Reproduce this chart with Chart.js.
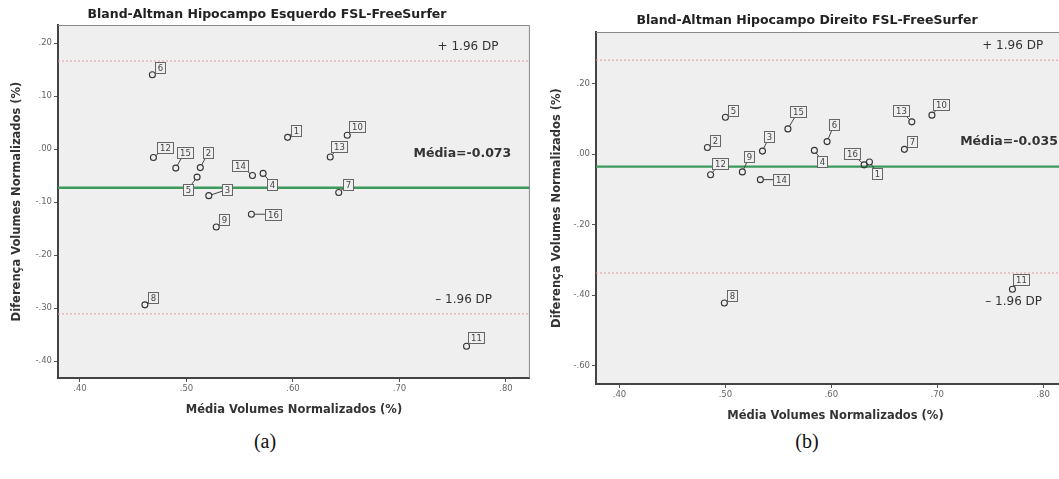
<!DOCTYPE html>
<html>
<head>
<meta charset="utf-8">
<script src="https://cdn.jsdelivr.net/npm/chart.js@4.4.0/dist/chart.umd.min.js"></script>
<style>
  html, body { margin: 0; padding: 0; background: #fff; width: 1059px; height: 479px; overflow: hidden; }
  body { position: relative; }
  .panel { position: absolute; top: 0; height: 425px; }
  .cap { position: absolute; top: 430px; width: 100px; text-align: center;
         font-family: "Liberation Serif", "DejaVu Serif", serif; font-size: 20px; line-height: 22px; color: #111; }
</style>
</head>
<body>
<div class="panel" style="left:0;width:535px"><canvas id="chartA" width="535" height="425"></canvas></div>
<div class="panel" style="left:535px;width:545px"><canvas id="chartB" width="545" height="425"></canvas></div>
<div class="cap" style="left:215px">(a)</div>
<div class="cap" style="left:757px">(b)</div>

<script>
// ids of the subjects (same for both panels)
const subjectIds = [1, 2, 3, 4, 5, 6, 7, 8, 9, 10, 11, 12, 13, 14, 15, 16];

// (a) hipocampo esquerdo
const mediaEsq = [0.595, 0.513, 0.521, 0.572, 0.510, 0.468, 0.643, 0.461, 0.528, 0.651, 0.763, 0.469, 0.635, 0.562, 0.490, 0.561];
const difEsq   = [0.022, -0.035, -0.088, -0.046, -0.053, 0.140, -0.082, -0.294, -0.147, 0.026, -0.372, -0.016, -0.015, -0.050, -0.036, -0.123];
const limitesEsq = { media: -0.073, sup: 0.166, inf: -0.311 };

// (b) hipocampo direito
const mediaDir = [0.636, 0.483, 0.535, 0.584, 0.500, 0.596, 0.669, 0.499, 0.516, 0.695, 0.771, 0.486, 0.676, 0.533, 0.559, 0.631];
const difDir   = [-0.022, 0.019, 0.009, 0.011, 0.105, 0.036, 0.014, -0.422, -0.050, 0.111, -0.383, -0.058, 0.092, -0.072, 0.072, -0.030];
const limitesDir = { media: -0.035, sup: 0.267, inf: -0.337 };

// tick labels
const xTicks = [0.4, 0.5, 0.6, 0.7, 0.8];
const yTicksEsq = [0.2, 0.1, 0.0, -0.1, -0.2, -0.3, -0.4];
const yTicksDir = [0.2, 0.0, -0.2, -0.4, -0.6];

// axis ranges
const xRangeEsq = [0.3794, 0.8225];
const yRangeEsq = [-0.432, 0.234];
const xRangeDir = [0.3778, 0.830];
const yRangeDir = [-0.652, 0.347];

// where each id label box sits relative to its point (px)
const labelPosEsq = [[8,-7],[8,-15],[18,-6],[9,11],[-9,12],[8,-7],[9,-8],[8,-7],[8,-7],[10,-9],[9,-9],[12,-10],[9,-10],[-12,-10],[9,-16],[22,0]];
const labelPosDir = [[8,11],[8,-7],[7,-15],[8,11],[8,-7],[7,-17],[8,-8],[8,-7],[7,-15],[9,-11],[9,-10],[9,-11],[-11,-11],[21,0],[10,-17],[-12,-11]];

const FONT = '"DejaVu Sans", "Liberation Sans", sans-serif';
const PLOT_BG = '#efefef';

function fmtTick(v) {
    return v.toFixed(2).replace('0.', '.');
}

function blandAltman(canvasId, cfg) {
    const [xmin, xmax] = cfg.xRange;
    const lim = cfg.limites;

    const boxPlugin = {
        id: 'spssLook',
        beforeDraw(chart) {
            const a = chart.chartArea, ctx = chart.ctx;
            ctx.save();
            ctx.fillStyle = PLOT_BG;
            ctx.fillRect(a.left, a.top, a.right - a.left, a.bottom - a.top);
            ctx.restore();
        },
        afterDatasetsDraw(chart) {
            const ctx = chart.ctx;
            const xs = chart.scales.x, ys = chart.scales.y;
            const meta = chart.getDatasetMeta(0);

            // id labels with leader lines
            ctx.save();
            ctx.font = '8.5px ' + FONT;
            ctx.textAlign = 'center';
            ctx.textBaseline = 'middle';
            meta.data.forEach((pt, i) => {
                const [dx, dy] = cfg.labelPos[i];
                const cx = pt.x + dx, cy = pt.y + dy;
                const txt = String(subjectIds[i]);
                const w = Math.round(ctx.measureText(txt).width + 5), h = 11;
                const len = Math.hypot(dx, dy) || 1;
                ctx.strokeStyle = '#444';
                ctx.lineWidth = 1;
                ctx.beginPath();
                ctx.moveTo(pt.x + dx / len * 3, pt.y + dy / len * 3);
                ctx.lineTo(cx, cy);
                ctx.stroke();
                const bx = Math.round(cx - w / 2) + 0.5, by = Math.round(cy - h / 2) + 0.5;
                ctx.fillStyle = PLOT_BG;
                ctx.fillRect(bx, by, w, h);
                ctx.strokeStyle = '#666';
                ctx.strokeRect(bx, by, w, h);
                ctx.fillStyle = '#444';
                ctx.fillText(txt, bx + w / 2, by + h / 2 + 0.5);
            });

            // reference line texts
            ctx.textAlign = 'right';
            ctx.fillStyle = '#333';
            ctx.font = '12px ' + FONT;
            ctx.fillText('+ 1.96 DP', xs.getPixelForValue(cfg.txtX[0]), ys.getPixelForValue(lim.sup) + cfg.txtDy[0]);
            ctx.fillText('\u2013 1.96 DP', xs.getPixelForValue(cfg.txtX[2]), ys.getPixelForValue(lim.inf) + cfg.txtDy[2]);
            ctx.font = 'bold 12.5px ' + FONT;
            ctx.fillText('Média=' + lim.media.toFixed(3), xs.getPixelForValue(cfg.txtX[1]), ys.getPixelForValue(lim.media) + cfg.txtDy[1]);

            // chart title
            ctx.textAlign = 'center';
            ctx.fillStyle = '#222';
            ctx.font = 'bold 12.5px ' + FONT;
            ctx.fillText(cfg.title, cfg.titlePos[0], cfg.titlePos[1]);
            ctx.restore();
        },
        afterDraw(chart) {
            const a = chart.chartArea, ctx = chart.ctx;
            ctx.save();
            ctx.strokeStyle = '#888';
            ctx.lineWidth = 1;
            ctx.beginPath();
            ctx.moveTo(a.left, a.top + 0.5);
            ctx.lineTo(a.right - 0.5, a.top + 0.5);
            ctx.lineTo(a.right - 0.5, a.bottom);
            ctx.stroke();
            ctx.restore();
        }
    };

    const ctx = document.getElementById(canvasId).getContext('2d');
    return new Chart(ctx, {
        type: 'scatter',
        data: {
            datasets: [
                {
                    data: cfg.media.map((x, i) => ({ x: x, y: cfg.dif[i] })),
                    pointRadius: 3,
                    pointBorderWidth: 1.1,
                    pointBorderColor: '#333',
                    pointBackgroundColor: 'rgba(0,0,0,0)'
                },
                {
                    type: 'line',
                    data: [{ x: xmin, y: lim.media }, { x: xmax, y: lim.media }],
                    borderColor: '#3d9a5d',
                    borderWidth: 2.4,
                    pointRadius: 0
                },
                {
                    type: 'line',
                    data: [{ x: xmin, y: lim.sup }, { x: xmax, y: lim.sup }],
                    borderColor: '#e79a9a',
                    borderWidth: 1,
                    borderDash: [2, 2],
                    pointRadius: 0
                },
                {
                    type: 'line',
                    data: [{ x: xmin, y: lim.inf }, { x: xmax, y: lim.inf }],
                    borderColor: '#e79a9a',
                    borderWidth: 1,
                    borderDash: [2, 2],
                    pointRadius: 0
                }
            ]
        },
        options: {
            responsive: false,
            animation: false,
            events: [],
            layout: { padding: cfg.padding },
            plugins: { legend: { display: false }, tooltip: { enabled: false } },
            scales: {
                x: {
                    type: 'linear',
                    min: xmin,
                    max: xmax,
                    afterBuildTicks: s => { s.ticks = xTicks.map(v => ({ value: v })); },
                    afterFit: s => { s.height = cfg.xAxisH; },
                    grid: { drawOnChartArea: false, drawTicks: true, tickLength: 4, color: '#555' },
                    border: { display: true, color: '#444', width: 2 },
                    ticks: { autoSkip: false, maxRotation: 0, padding: 2, color: '#666',
                             font: { family: FONT, size: 8.5 }, callback: v => fmtTick(v) },
                    title: { display: true, text: 'Média Volumes Normalizados (%)', color: '#333',
                             font: { family: FONT, size: 11.5, weight: 'bold' },
                             padding: { top: 0, bottom: cfg.xTitlePad } }
                },
                y: {
                    type: 'linear',
                    min: cfg.yRange[0],
                    max: cfg.yRange[1],
                    afterBuildTicks: s => { s.ticks = cfg.yTicks.map(v => ({ value: v })); },
                    afterFit: s => { s.width = cfg.yAxisW; },
                    grid: { drawOnChartArea: false, drawTicks: true, tickLength: 4, color: '#555' },
                    border: { display: true, color: '#444', width: 2 },
                    ticks: { autoSkip: false, padding: 2, color: '#666',
                             font: { family: FONT, size: 8.5 }, callback: v => fmtTick(v) },
                    title: { display: true, text: 'Diferença Volumes Normalizados (%)', color: '#333',
                             font: { family: FONT, size: 11.5, weight: 'bold' },
                             padding: { top: cfg.yTitlePad, bottom: 0 } }
                }
            }
        },
        plugins: [boxPlugin]
    });
}

blandAltman('chartA', {
    title: 'Bland-Altman Hipocampo Esquerdo FSL-FreeSurfer',
    titlePos: [267, 15],
    media: mediaEsq, dif: difEsq, limites: limitesEsq,
    xRange: xRangeEsq, yRange: yRangeEsq, yTicks: yTicksEsq,
    labelPos: labelPosEsq,
    txtX: [0.793, 0.805, 0.787],
    txtDy: [-14, -34, -14],
    padding: { left: 0, top: 25, right: 4, bottom: 0 },
    yAxisW: 58, xAxisH: 47, xTitlePad: 8.1, yTitlePad: 10.1
});

blandAltman('chartB', {
    title: 'Bland-Altman Hipocampo Direito FSL-FreeSurfer',
    titlePos: [272, 21],
    media: mediaDir, dif: difDir, limites: limitesDir,
    xRange: xRangeDir, yRange: yRangeDir, yTicks: yTicksDir,
    labelPos: labelPosDir,
    txtX: [0.800, 0.814, 0.799],
    txtDy: [-14, -25, 29],
    padding: { left: 0, top: 32, right: 5, bottom: 0 },
    yAxisW: 61, xAxisH: 41, xTitlePad: 2.1, yTitlePad: 15.1
});
</script>
</body>
</html>
